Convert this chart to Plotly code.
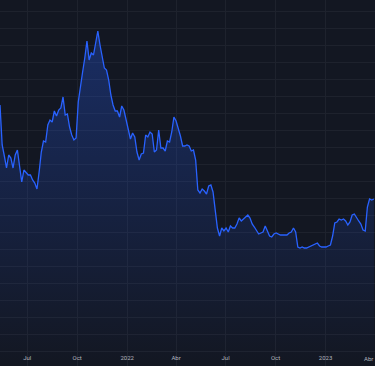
import pandas as pd
import plotly.graph_objects as go

# Sampled every 4 days starting 2021-05-12 (price, USD)
start_date = "2021-05-12"
step_days = 4
prices = [
    50625, 40825, 38130, 35190, 38375, 37640, 35190, 38375, 39600, 35190,
    31760, 34700, 34210, 33475, 33475, 32250, 31515, 30045, 34210, 39110,
    41805, 41560, 45725, 46950, 46460, 49155, 47930, 49400, 49890, 52585,
    48175, 48420, 45235, 43275, 42050, 42540, 51360, 55525, 58710, 62140,
    66305, 61650, 63365, 62875, 65570, 68755, 65325, 62630, 59690, 59200,
    56750, 53075, 50625, 49155, 49155, 47685, 50380, 49400, 47195, 44990,
    42295, 43765, 42785, 39110, 37150, 38620, 38865, 43275, 42785, 44010,
    43520, 39110, 39600, 44500, 40090, 40090, 39355, 41805, 41560, 44010,
    47685, 46705, 44990, 43030, 40580, 40580, 40825, 40580, 39355, 39600,
    37150, 29800, 29065, 30045, 29555, 28820, 30780, 31025, 29310, 24900,
    20490, 18530, 20490, 19755, 20490, 19510, 20980, 20490, 20490, 21470,
    22940, 22205, 22695, 22940, 23675, 22940, 21470, 20735, 19755, 19020,
    19265, 19510, 20980, 19755, 18530, 18285, 19020, 19265, 19020, 18775,
    18775, 18775, 18775, 19265, 19510, 20490, 19510, 15835, 15590, 15835,
    15590, 15590, 15835, 16080, 16325, 16570, 16815, 16080, 15835, 15835,
    15835, 16080, 16325, 18530, 21715, 21960, 22695, 22450, 22695, 22205,
    21225, 21960, 23675, 23920, 22940, 22205, 21470, 19980, 19755, 25635,
    27595, 27350, 27595,
]
dates = pd.date_range(start_date, periods=len(prices), freq=f"{step_days}D")

tick_dates = ["2021-07-01", "2021-10-01", "2022-01-01", "2022-04-01",
              "2022-07-01", "2022-10-01", "2023-01-01", "2023-04-01"]
tick_labels = ["Jul", "Oct", "2022", "Abr", "Jul", "Oct", "2023", "Abr"]

X_RANGE = ["2021-05-12", "2023-04-02"]
Y_MIN, Y_MAX = -13320, 76350
BG = "#131722"
GRID = "#1e222d"
TICK_FONT = dict(family="Roboto", size=6, color="#b2b5be")

fig = go.Figure()
fig.add_trace(go.Scatter(
    x=dates, y=[Y_MIN] * len(prices), mode="lines",
    line=dict(width=0), hoverinfo="skip", showlegend=False,
))
fig.add_trace(go.Scatter(
    x=dates, y=prices, mode="lines",
    line=dict(color="#2962FF", width=1.3),
    fill="tonexty",
    fillgradient=dict(
        type="vertical",
        start=Y_MIN, stop=max(prices),
        colorscale=[[0, "rgba(41,98,255,0.0)"], [1, "rgba(41,98,255,0.30)"]],
    ),
    showlegend=False,
))

# the last tick sits on the right edge: show its label kept inside the chart
fig.add_annotation(
    x=1, y=0, xref="paper", yref="paper",
    text=tick_labels[-1], showarrow=False,
    xanchor="right", yanchor="bottom", yshift=2,
    font=TICK_FONT,
)

fig.update_layout(
    width=375, height=366,
    margin=dict(l=0, r=0, t=0, b=0),
    paper_bgcolor=BG, plot_bgcolor=BG,
    xaxis=dict(
        range=X_RANGE, tickvals=tick_dates,
        ticktext=tick_labels[:-1] + [""],
        showgrid=True, gridcolor=GRID, gridwidth=1,
        ticklabelposition="inside", ticks="", zeroline=False, showline=False,
        ticklabelstandoff=2,
        tickfont=TICK_FONT,
    ),
    yaxis=dict(
        range=[Y_MIN, Y_MAX], showticklabels=False,
        tick0=73655, dtick=4165,
        showgrid=True, gridcolor=GRID, gridwidth=1,
        zeroline=False, showline=False, ticks="",
    ),
)

fig.write_html(
    "out.html",
    config={"displayModeBar": False},
    post_script="document.body.style.margin='0';document.body.style.background='#131722';",
)
